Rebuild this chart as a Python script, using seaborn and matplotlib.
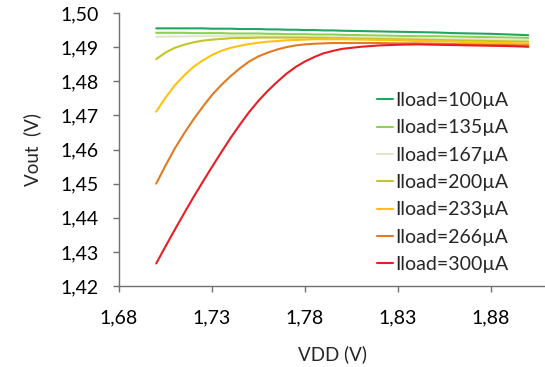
import matplotlib
matplotlib.use("Agg")
import matplotlib.pyplot as plt
from matplotlib.ticker import FuncFormatter
import seaborn as sns
import pandas as pd

# supply voltage sweep (V): finer where the curves bend
vdd = [1.700, 1.705, 1.710, 1.715, 1.720, 1.725, 1.730, 1.735, 1.740, 1.745, 1.750,
       1.755, 1.760, 1.765, 1.770, 1.775, 1.780, 1.785, 1.790, 1.795, 1.800,
       1.81, 1.82, 1.83, 1.84, 1.85, 1.86, 1.87, 1.88, 1.89, 1.90]

# output voltage (V) for each load current
vout_100 = [1.4955, 1.4955, 1.4955, 1.4955, 1.4955, 1.4955, 1.4954, 1.4954, 1.4954, 1.4953, 1.4953,
            1.4953, 1.4952, 1.4952, 1.4951, 1.4951, 1.4950, 1.4950, 1.4949, 1.4949, 1.4948,
            1.4947, 1.4946, 1.4945, 1.4944, 1.4943, 1.4941, 1.4940, 1.4939, 1.4937, 1.4935]
vout_135 = [1.4942, 1.4942, 1.4942, 1.4942, 1.4941, 1.4941, 1.4941, 1.4941, 1.4940, 1.4940, 1.4940,
            1.4940, 1.4939, 1.4939, 1.4938, 1.4938, 1.4938, 1.4937, 1.4937, 1.4937, 1.4936,
            1.4935, 1.4934, 1.4933, 1.4932, 1.4932, 1.4931, 1.4930, 1.4929, 1.4928, 1.4927]
vout_167 = [1.4930, 1.4931, 1.4931, 1.4931, 1.4932, 1.4932, 1.4932, 1.4932, 1.4932, 1.4932, 1.4932,
            1.4932, 1.4931, 1.4931, 1.4931, 1.4931, 1.4930, 1.4930, 1.4930, 1.4930, 1.4929,
            1.4928, 1.4927, 1.4927, 1.4926, 1.4925, 1.4924, 1.4924, 1.4923, 1.4922, 1.4921]
vout_200 = [1.4865, 1.4884, 1.4898, 1.4907, 1.4914, 1.4919, 1.4922, 1.4924, 1.4926, 1.4927, 1.4927,
            1.4928, 1.4928, 1.4928, 1.4928, 1.4928, 1.4928, 1.4927, 1.4927, 1.4926, 1.4926,
            1.4925, 1.4924, 1.4923, 1.4922, 1.4921, 1.4920, 1.4919, 1.4918, 1.4917, 1.4916]
vout_233 = [1.4711, 1.4752, 1.4788, 1.4817, 1.4842, 1.4861, 1.4877, 1.4889, 1.4898, 1.4904, 1.4909,
            1.4913, 1.4916, 1.4918, 1.4920, 1.4921, 1.4922, 1.4923, 1.4923, 1.4923, 1.4923,
            1.4922, 1.4921, 1.4920, 1.4918, 1.4917, 1.4916, 1.4914, 1.4913, 1.4912, 1.4910]
vout_266 = [1.4500, 1.4553, 1.4603, 1.4647, 1.4688, 1.4725, 1.4760, 1.4789, 1.4815, 1.4838, 1.4858,
            1.4873, 1.4884, 1.4893, 1.4900, 1.4905, 1.4908, 1.4910, 1.4911, 1.4912, 1.4912,
            1.4912, 1.4912, 1.4911, 1.4911, 1.4910, 1.4909, 1.4908, 1.4907, 1.4906, 1.4905]
vout_300 = [1.4266, 1.4316, 1.4365, 1.4413, 1.4460, 1.4505, 1.4549, 1.4592, 1.4634, 1.4673, 1.4710,
            1.4743, 1.4772, 1.4798, 1.4822, 1.4842, 1.4858, 1.4871, 1.4882, 1.4889, 1.4895,
            1.4901, 1.4905, 1.4907, 1.4908, 1.4907, 1.4906, 1.4905, 1.4904, 1.4903, 1.4901]

labels = ["Iload=100µA", "Iload=135µA", "Iload=167µA", "Iload=200µA",
          "Iload=233µA", "Iload=266µA", "Iload=300µA"]
series = [vout_100, vout_135, vout_167, vout_200, vout_233, vout_266, vout_300]
colors = ["#22a55f", "#8fd150", "#dfe8cc", "#c4c526", "#ffc20e", "#e27a22", "#ec1c24"]

xticks = [1.68, 1.73, 1.78, 1.83, 1.88]
yticks = [1.42, 1.43, 1.44, 1.45, 1.46, 1.47, 1.48, 1.49, 1.50]

rows = []
for lab, vals in zip(labels, series):
    for x, y in zip(vdd, vals):
        rows.append({"VDD": x, "Vout": y, "load": lab})
df = pd.DataFrame(rows)

sns.set_style("white")
plt.rcParams["font.family"] = ["Lato", "DejaVu Sans"]

fig = plt.figure(figsize=(5.45, 3.67), dpi=100)
ax = fig.add_axes([119 / 545, 1 - 286 / 367, 426 / 545, 273 / 367])

sns.lineplot(data=df, x="VDD", y="Vout", hue="load", hue_order=labels,
             palette=colors, linewidth=1.5, ax=ax)

ax.set_xlim(1.68, 1.909)
ax.set_ylim(1.42, 1.50)
ax.set_xticks(xticks)
ax.set_yticks(yticks)
comma = FuncFormatter(lambda v, p: f"{v:.2f}".replace(".", ","))
ax.xaxis.set_major_formatter(comma)
ax.yaxis.set_major_formatter(comma)
ax.tick_params(axis="both", direction="out", length=4.5, width=1, color="#707070",
               labelsize=14, labelcolor="black", bottom=True, left=True)
ax.tick_params(axis="x", pad=12.5)
ax.tick_params(axis="y", pad=10)

for side in ["top", "right"]:
    ax.spines[side].set_visible(False)
for side in ["left", "bottom"]:
    ax.spines[side].set_color("#707070")
    ax.spines[side].set_linewidth(1)

ax.set_xlabel("VDD (V)", fontsize=13.5, labelpad=13.5)
ax.set_ylabel("Vout  (V)", fontsize=13.5, labelpad=14)

ax.legend(loc="center left", bbox_to_anchor=(0.564, 0.379), frameon=False,
          fontsize=14, handlelength=0.85, handletextpad=0.1, labelspacing=0.53)

fig.savefig("out.png", dpi=100)
